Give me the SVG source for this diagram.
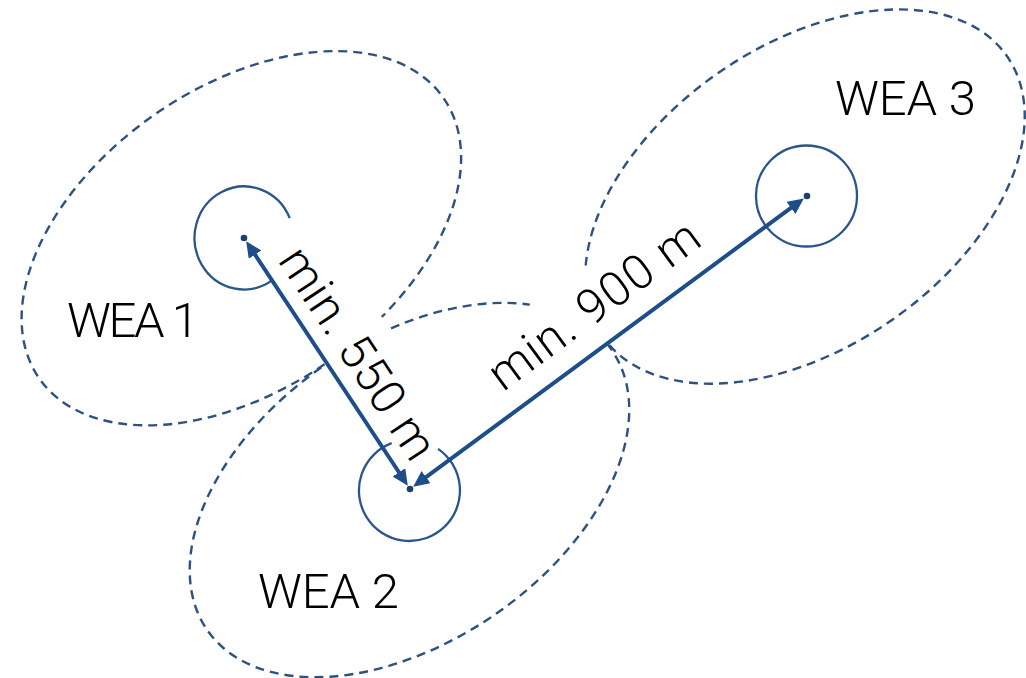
<svg xmlns="http://www.w3.org/2000/svg" width="1026" height="678" viewBox="0 0 1026 678">
  <style>
    .zone { fill: none; stroke: #2d5282; stroke-width: 2.4; stroke-dasharray: 9 6; }
    .ring { fill: none; stroke: #2b568b; stroke-width: 2.3; }
    .dot { fill: #1d3f6e; }
    .arrow { fill: none; stroke: #1e4e8a; stroke-width: 4; marker-start: url(#head); marker-end: url(#head); }
    .label { font-family: Roboto, "Liberation Sans", sans-serif; font-weight: 300; font-size: 49px; fill: #000; }
    .dist { font-family: Roboto, "Liberation Sans", sans-serif; font-weight: 300; font-size: 48px; fill: #000; text-anchor: middle; }
  </style>
  <defs>
    <marker id="head" viewBox="0 0 16 15" markerWidth="16" markerHeight="15" refX="8" refY="7.5" markerUnits="userSpaceOnUse" orient="auto-start-reverse">
      <path d="M0,0 L16,7.5 L0,15 z" fill="#1e4e8a"/>
    </marker>
  </defs>
  <rect width="1026" height="678" fill="#fff"/>

  <g id="wea1">
    <path class="zone" d="M324.5,364.3 A246,151 -34.7 1 1 381.8,316.9"/>
    <path class="ring" d="M289.7,218.1 A49.5,51.5 0 1 0 272.7,279.9"/>
    <circle class="dot" cx="244" cy="238" r="3.3"/>
    <text class="label" x="67" y="337" textLength="132" lengthAdjust="spacing">WEA 1</text>
  </g>

  <g id="wea2">
    <path class="zone" d="M391.0,328.3 A246,151 -34.7 0 1 529.8,304.6"/>
    <path class="zone" d="M606.6,343.3 A246,151 -34.7 1 1 325.0,364.9"/>
    <path class="ring" d="M438.1,448.9 A50.5,50.5 0 1 1 391.7,443.2"/>
    <circle class="dot" cx="410" cy="489" r="3.3"/>
    <text class="label" x="258" y="608" textLength="141" lengthAdjust="spacing">WEA 2</text>
  </g>

  <g id="wea3">
    <path class="zone" d="M585.7,265.5 A246,151 -34.7 1 1 607.5,342.9"/>
    <circle class="ring" cx="806.5" cy="196" r="50.5"/>
    <circle class="dot" cx="807" cy="196" r="3.3"/>
    <text class="label" x="835" y="115" textLength="141" lengthAdjust="spacing">WEA 3</text>
  </g>

  <g id="connectors">
    <line class="arrow" x1="250.6" y1="248.0" x2="403.4" y2="479.0"/>
    <line class="arrow" x1="419.6" y1="481.9" x2="797.4" y2="203.2"/>
    <text class="dist" transform="translate(344.5,362.2) rotate(56.52)" x="0" y="0" textLength="244" lengthAdjust="spacing">min. 550 m</text>
    <text class="dist" transform="translate(603.5,318.1) rotate(-36.43)" x="0" y="0" textLength="250" lengthAdjust="spacing">min. 900 m</text>
  </g>
</svg>
